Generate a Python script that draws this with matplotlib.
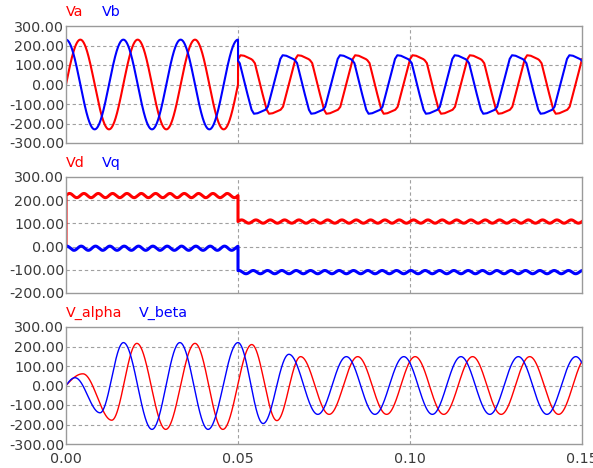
import matplotlib
matplotlib.use("Agg")
import matplotlib.pyplot as plt
import numpy as np

plt.rcParams['font.family'] = ['DejaVu Sans']
plt.rcParams['axes.unicode_minus'] = False

# ---- values ----
T_SWITCH = 0.05
T_END = 0.15
x_ticks = [0.00, 0.05, 0.10, 0.15]

# Va / Vb before the switch: extrema (time, value)
va_ext_t = [-0.00417, 0.00417, 0.0125, 0.02083, 0.02917, 0.0375, 0.04583, 0.05417]
va_ext_v = [-230, 230, -230, 230, -230, 230, -230, 230]
vb_ext_t = [-0.00833, 0.0, 0.00833, 0.01667, 0.025, 0.03333, 0.04167, 0.05, 0.05833]
vb_ext_v = [-230, 230, -230, 230, -230, 230, -230, 230, -230]

# Va / Vb after the switch: one period of the flat-topped shape
flat_period = 1 / 60
flat_phase = [0.0, 0.0007, 0.0025, 0.0043, 0.0050, 0.0060, 0.0080, 0.0085, 0.0092,
              0.0108, 0.0126, 0.0133, 0.0143, 0.0163, flat_period]
flat_value = [-130, -115, 5, 130, 150, 148, 132, 126, 110,
              -5, -128, -150, -148, -132, -130]
va_flat_start = 0.0457
vb_flat_start = 0.0413

# Vd / Vq: level before and after the switch, 240 Hz ripple
vd_level = [220, 108]
vq_level = [-7, -110]
dq_ripple = [9, 7]
ripple_freq = 240

# V_alpha / V_beta: extrema (time, value)
alpha_t = [-0.0049, 0.0049, 0.0133, 0.0206, 0.0290, 0.0375, 0.0456, 0.0540, 0.0613,
           0.0682, 0.0765, 0.0848, 0.0932, 0.1015, 0.1098, 0.1182, 0.1265, 0.1348,
           0.1432, 0.1515]
alpha_v = [-60, 60, -178, 216, -225, 216, -225, 210, -180,
           148, -148, 148, -148, 148, -148, 148, -148, 148, -148, 148]
beta_t = [-0.0026, 0.0026, 0.0099, 0.0167, 0.0250, 0.0331, 0.0413, 0.0500, 0.0573,
          0.0648, 0.0732, 0.0815, 0.0898, 0.0982, 0.1065, 0.1148, 0.1232, 0.1315,
          0.1398, 0.1482, 0.1565]
beta_v = [-40, 40, -140, 220, -225, 220, -225, 220, -195,
          160, -148, 148, -148, 148, -148, 148, -148, 148, -148, 148, -148]


def through_extrema(t, tk, vk):
    """half-cosine between successive extrema"""
    tk = np.asarray(tk, float)
    vk = np.asarray(vk, float)
    i = np.clip(np.searchsorted(tk, t) - 1, 0, len(tk) - 2)
    u = (t - tk[i]) / (tk[i + 1] - tk[i])
    return vk[i] + (vk[i + 1] - vk[i]) * (1 - np.cos(np.pi * u)) / 2


t1 = np.linspace(0, T_SWITCH, 3000)
t2 = np.linspace(T_SWITCH, T_END, 6000)
t_all = np.linspace(0, T_END, 12000)

va = np.concatenate([through_extrema(t1, va_ext_t, va_ext_v),
                     np.interp((t2 - va_flat_start) % flat_period, flat_phase, flat_value)])
vb = np.concatenate([through_extrema(t1, vb_ext_t, vb_ext_v),
                     np.interp((t2 - vb_flat_start) % flat_period, flat_phase, flat_value)])
t12 = np.concatenate([t1, t2])

vd = np.concatenate([vd_level[0] + dq_ripple[0] * np.sin(2 * np.pi * ripple_freq * t1),
                     vd_level[1] + dq_ripple[1] * np.sin(2 * np.pi * ripple_freq * t2)])
vq = np.concatenate([vq_level[0] + dq_ripple[0] * np.sin(2 * np.pi * ripple_freq * t1 + 1.2),
                     vq_level[1] + dq_ripple[1] * np.sin(2 * np.pi * ripple_freq * t2 + 1.2)])
vd = np.concatenate([[0.0], vd])
vq = np.concatenate([[0.0], vq])
t_dq = np.concatenate([[0.0], t12])

v_alpha = through_extrema(t_all, alpha_t, alpha_v)
v_beta = through_extrema(t_all, beta_t, beta_v)

# ---- drawing ----
RED = '#ff0000'
BLUE = '#0000ff'
TXT = '#3a3a3a'
GRID = '#a0a0a0'

fig = plt.figure(figsize=(5.93, 4.68), dpi=100)
W, H = 593, 468


def make_axes(top_px, bot_px):
    return fig.add_axes([66 / W, 1 - bot_px / H, 516 / W, (bot_px - top_px) / H])


panels = [
    (make_axes(26, 143), [-300, -200, -100, 0, 100, 200, 300], ('Va', 'Vb')),
    (make_axes(177, 293), [-200, -100, 0, 100, 200, 300], ('Vd', 'Vq')),
    (make_axes(327, 444), [-300, -200, -100, 0, 100, 200, 300], ('V_alpha', 'V_beta')),
]

name2_x_pt = [25.9, 25.9, 52.6]

for k, (ax, yt, names) in enumerate(panels):
    ax.set_xlim(0, T_END)
    ax.set_ylim(yt[0], yt[-1])
    ax.set_yticks(yt)
    ax.set_yticklabels(['%.2f' % v for v in yt])
    ax.set_xticks(x_ticks)
    if k == 2:
        ax.set_xticklabels(['%.2f' % v for v in x_ticks])
    else:
        ax.set_xticklabels([])
    ax.tick_params(length=0, labelsize=10.3, labelcolor=TXT)
    ax.tick_params(axis='y', pad=1.2)
    ax.tick_params(axis='x', pad=5.5)
    for s in ax.spines.values():
        s.set_color('#9a9a9a')
        s.set_linewidth(1)
    for v in yt[1:-1]:
        ax.axhline(v, color=GRID, lw=0.8, ls=(0, (3, 2.5)), zorder=0)
    for v in x_ticks[1:-1]:
        ax.axvline(v, color=GRID, lw=0.8, ls=(0, (3, 2.5)), zorder=0)
    ax.annotate(names[0], xy=(0, 1), xycoords='axes fraction', xytext=(0, 7),
                textcoords='offset points', color=RED, fontsize=10.3, va='baseline')
    ax.annotate(names[1], xy=(0, 1), xycoords='axes fraction', xytext=(name2_x_pt[k], 7),
                textcoords='offset points', color=BLUE, fontsize=10.3, va='baseline')

ax1, ax2, ax3 = panels[0][0], panels[1][0], panels[2][0]
ax1.plot(t12, va, color=RED, lw=1.5)
ax1.plot(t12, vb, color=BLUE, lw=1.5)
ax2.plot(t_dq, vd, color=RED, lw=2.2)
ax2.plot(t_dq, vq, color=BLUE, lw=2.2)
ax3.plot(t_all, v_alpha, color=RED, lw=1.0)
ax3.plot(t_all, v_beta, color=BLUE, lw=1.0)

fig.savefig('out.png', dpi=100)
